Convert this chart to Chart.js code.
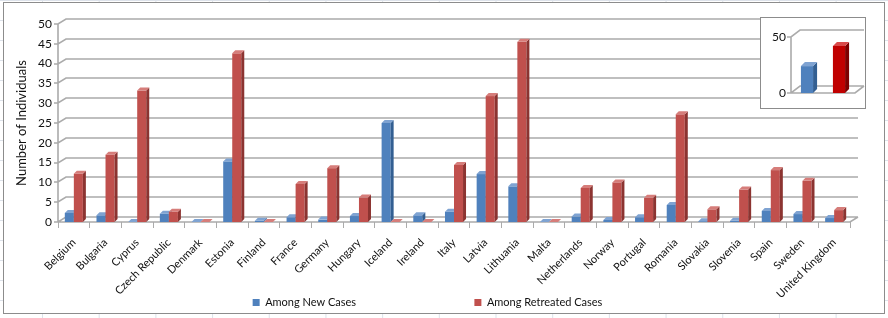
<!DOCTYPE html>
<html>
<head>
<meta charset="utf-8">
<script src="https://cdn.jsdelivr.net/npm/chart.js@4.4.1/dist/chart.umd.min.js"></script>
<style>
  html, body { margin: 0; padding: 0; }
  body {
    width: 888px; height: 318px; overflow: hidden; position: relative; background-color: #fff;
    background-image: linear-gradient(to right, #dde2ea 1px, transparent 1px),
                      linear-gradient(to bottom, #dde2ea 1px, transparent 1px);
    background-size: 56.7px 100%, 100% 20px;
    background-position: 42px 0, 0 0;
  }
  #frame { position: absolute; left: 3px; top: 2px; width: 880px; height: 310px; border: 1px solid #8c8c8c; background: #fff; }
  #mainChart { position: absolute; left: 4px; top: 3px; }
  #insetBox { position: absolute; left: 760px; top: 17px; width: 104px; height: 90px; border: 1px solid #8c8c8c; background: #fff; }
  #insetChart { position: absolute; left: 0; top: 0; }
</style>
</head>
<body>
<div id="frame"></div>
<canvas id="mainChart" width="880" height="315"></canvas>
<div id="insetBox"><canvas id="insetChart" width="104" height="90"></canvas></div>
<script>
const countries = ['Belgium', 'Bulgaria', 'Cyprus', 'Czech Republic', 'Denmark', 'Estonia', 'Finland',
  'France', 'Germany', 'Hungary', 'Iceland', 'Ireland', 'Italy', 'Latvia', 'Lithuania', 'Malta',
  'Netherlands', 'Norway', 'Portugal', 'Romania', 'Slovakia', 'Slovenia', 'Spain', 'Sweden', 'United Kingdom'];
const newCases = [2.3, 1.7, 0, 2.1, 0, 15.3, 0.3, 1.2, 0.6, 1.5, 25, 1.7, 2.6, 12.1, 9.0, 0,
  1.4, 0.5, 1.2, 4.3, 0.2, 0.3, 2.8, 2.0, 1.0];
const retreatedCases = [12.2, 17.0, 33.2, 2.6, 0, 42.6, 0, 9.6, 13.6, 6.2, 0, 0, 14.4, 31.8, 45.5, 0,
  8.6, 10.0, 6.1, 27.2, 3.2, 8.2, 13.1, 10.4, 3.0];
const seriesNames = ['Among New Cases', 'Among Retreated Cases'];
const yMax = 50, yStep = 5;

// small summary chart in the corner
const insetLabels = ['Among New Cases', 'Among Retreated Cases'];
const insetValues = [24, 42];
const insetTicks = [0, 50];

const FONT = 'Lato';
const GRID = '#ababab';

const pick = (v, i) => Array.isArray(v) ? v[i] : v;

// back wall + floor lines and extruded bars, Excel 3D look
function wall3d(dx, dy, depth) {
  return {
    id: 'wall3d',
    beforeDatasetsDraw(chart) {
      const { ctx, chartArea: a, scales: { x, y } } = chart;
      ctx.save();
      ctx.strokeStyle = GRID;
      ctx.lineWidth = 1.6;
      ctx.beginPath();
      y.ticks.forEach(t => {
        const py = Math.round(y.getPixelForValue(t.value));
        ctx.moveTo(a.left - 4, py);
        ctx.lineTo(a.left, py);
        ctx.lineTo(a.left + dx, py - dy);
        ctx.lineTo(a.right + dx, py - dy);
      });
      ctx.moveTo(a.left, a.top);
      ctx.lineTo(a.left, a.bottom);
      ctx.lineTo(a.right, a.bottom);
      ctx.lineTo(a.right + dx, a.bottom - dy);
      ctx.stroke();

      chart.data.datasets.forEach((ds, di) => {
        chart.getDatasetMeta(di).data.forEach((bar, j) => {
          const p = bar.getProps(['x', 'y', 'base', 'width'], true);
          const l = p.x - p.width / 2, r = p.x + p.width / 2;
          const top = Math.min(p.y, p.base), base = Math.max(p.y, p.base);
          // front
          ctx.fillStyle = pick(ds.backgroundColor, j);
          ctx.fillRect(l, top, p.width, base - top);
          // side
          ctx.fillStyle = pick(ds.sideColor, j);
          ctx.beginPath();
          ctx.moveTo(r, top); ctx.lineTo(r + depth, top - depth);
          ctx.lineTo(r + depth, base - depth); ctx.lineTo(r, base);
          ctx.closePath(); ctx.fill();
          // top
          ctx.fillStyle = pick(ds.topColor, j);
          ctx.beginPath();
          ctx.moveTo(l, top); ctx.lineTo(l + depth, top - depth);
          ctx.lineTo(r + depth, top - depth); ctx.lineTo(r, top);
          ctx.closePath(); ctx.fill();
        });
      });
      ctx.restore();
      return false;
    }
  };
}

new Chart(document.getElementById('mainChart'), {
  type: 'bar',
  data: {
    labels: countries,
    datasets: [{
      label: seriesNames[0],
      data: newCases,
      backgroundColor: '#4f81bd', sideColor: '#335f92', topColor: '#7fa3d2',
      borderWidth: 0,
      categoryPercentage: 0.57, barPercentage: 1.0
    }, {
      label: seriesNames[1],
      data: retreatedCases,
      backgroundColor: '#c0504d', sideColor: '#8c3431', topColor: '#d67d7a',
      borderWidth: 0,
      categoryPercentage: 0.57, barPercentage: 1.0
    }]
  },
  options: {
    responsive: false,
    animation: false,
    devicePixelRatio: 1,
    layout: { padding: { left: 1, right: 34, top: 21, bottom: 0 } },
    scales: {
      x: {
        grid: { offset: true, drawOnChartArea: false, drawTicks: true, tickLength: 6, color: GRID, lineWidth: 1 },
        border: { display: false },
        ticks: { autoSkip: false, minRotation: 45, maxRotation: 45, padding: 8,
                 font: { family: FONT, size: 11 }, color: '#111' },
        afterFit(s) { s.height = 75; }
      },
      y: {
        min: 0, max: yMax,
        ticks: { stepSize: yStep, padding: 3, font: { family: FONT, size: 12 }, color: '#111' },
        grid: { display: false, drawTicks: true, tickLength: 3 },
        border: { display: false },
        title: { display: true, text: 'Number of Individuals', color: '#111',
                 font: { family: FONT, size: 13 }, padding: { top: 9, bottom: 0 } },
        afterFit(s) { s.width = 53; }
      }
    },
    plugins: {
      tooltip: { enabled: false },
      legend: {
        position: 'bottom',
        labels: {
          boxWidth: 7, boxHeight: 7, padding: 0,
          font: { family: FONT, size: 11 }, color: '#111',
          generateLabels(chart) {
            const items = Chart.defaults.plugins.legend.labels.generateLabels(chart);
            items[0].text += '\u00a0'.repeat(42);
            items.forEach(it => { it.lineWidth = 0; });
            return items;
          }
        }
      }
    }
  },
  plugins: [wall3d(8, 5, 3)]
});

new Chart(document.getElementById('insetChart'), {
  type: 'bar',
  data: {
    labels: insetLabels,
    datasets: [{
      data: insetValues,
      backgroundColor: ['#4f81bd', '#c00000'],
      sideColor: ['#335f92', '#7e0000'],
      topColor: ['#7fa3d2', '#d94a4a'],
      borderWidth: 0,
      categoryPercentage: 1.0, barPercentage: 0.38
    }]
  },
  options: {
    responsive: false,
    animation: false,
    devicePixelRatio: 1,
    layout: { padding: { left: 0, right: 10, top: 19, bottom: 15 } },
    scales: {
      x: { display: false },
      y: {
        min: insetTicks[0], max: insetTicks[1],
        afterBuildTicks(s) { s.ticks = insetTicks.map(v => ({ value: v })); },
        ticks: { padding: 3, font: { family: FONT, size: 12 }, color: '#111' },
        grid: { display: false, drawTicks: true, tickLength: 2 },
        border: { display: false },
        afterFit(s) { s.width = 30; }
      }
    },
    plugins: { legend: { display: false }, tooltip: { enabled: false } }
  },
  plugins: [wall3d(9, 7, 4)]
});
</script>
</body>
</html>
